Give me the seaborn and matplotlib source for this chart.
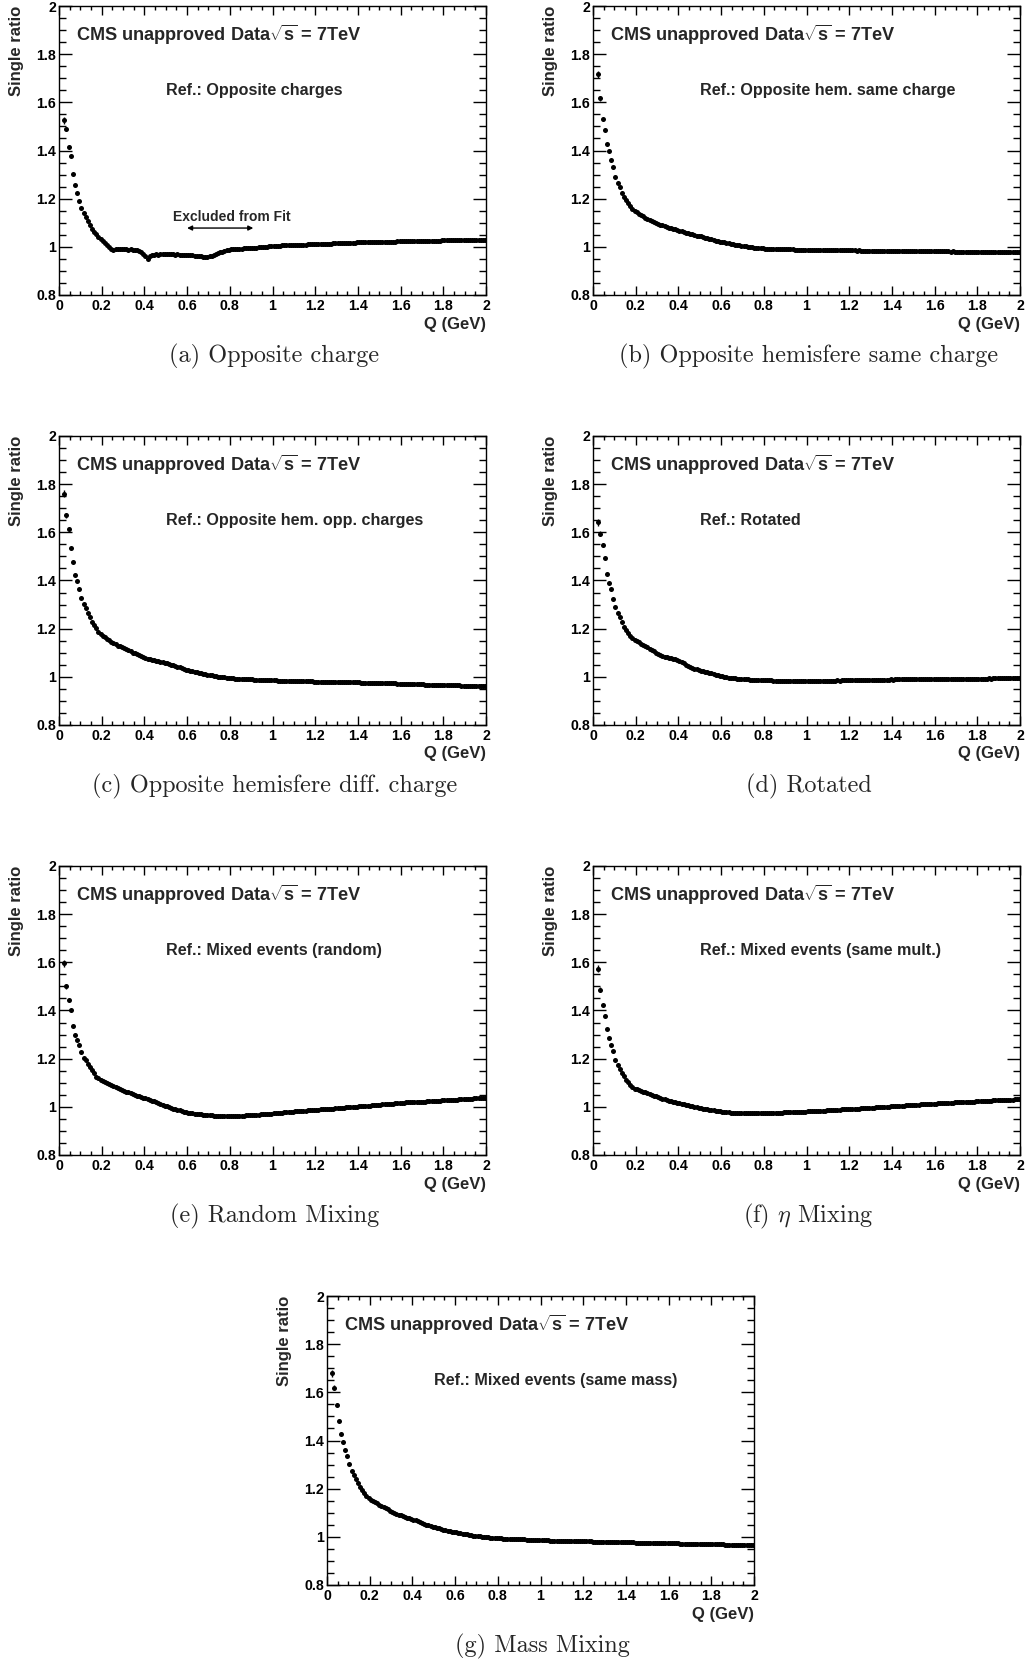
import numpy as np
import matplotlib
matplotlib.use("Agg")
import matplotlib.pyplot as plt
import matplotlib.ticker as mticker
import seaborn as sns

# Q bin centres (10 MeV bins, the first two are empty)
q_bins = np.round(np.arange(0.025, 2.0, 0.01), 3)

ratio_a = [
    1.526, 1.489, 1.415, 1.378, 1.302, 1.256, 1.222, 1.190, 1.160, 1.139,
    1.122, 1.107, 1.091, 1.075, 1.062, 1.052, 1.042, 1.033, 1.024, 1.016,
    1.007, 0.999, 0.991, 0.988, 0.989, 0.990, 0.990, 0.989, 0.990, 0.989,
    0.988, 0.989, 0.987, 0.986, 0.985, 0.982, 0.978, 0.971, 0.962, 0.951,
    0.962, 0.967, 0.968, 0.969, 0.968, 0.969, 0.970, 0.969, 0.969, 0.970,
    0.969, 0.969, 0.968, 0.969, 0.968, 0.968, 0.967, 0.967, 0.966, 0.966,
    0.965, 0.964, 0.962, 0.961, 0.960, 0.959, 0.958, 0.959, 0.960, 0.962,
    0.965, 0.969, 0.973, 0.977, 0.980, 0.983, 0.985, 0.987, 0.989, 0.990,
    0.991, 0.992, 0.993, 0.993, 0.994, 0.995, 0.995, 0.996, 0.996, 0.997,
    0.997, 0.998, 0.998, 0.999, 1.000, 1.001, 1.002, 1.003, 1.004, 1.004,
    1.005, 1.005, 1.006, 1.006, 1.006, 1.007, 1.007, 1.007, 1.008, 1.008,
    1.008, 1.009, 1.009, 1.009, 1.010, 1.010, 1.010, 1.011, 1.011, 1.011,
    1.012, 1.012, 1.012, 1.013, 1.013, 1.013, 1.014, 1.014, 1.015, 1.015,
    1.015, 1.016, 1.016, 1.016, 1.017, 1.017, 1.017, 1.018, 1.018, 1.018,
    1.019, 1.019, 1.019, 1.020, 1.020, 1.020, 1.020, 1.021, 1.021, 1.021,
    1.021, 1.022, 1.022, 1.022, 1.022, 1.022, 1.023, 1.023, 1.023, 1.023,
    1.023, 1.024, 1.024, 1.024, 1.024, 1.025, 1.025, 1.025, 1.025, 1.025,
    1.025, 1.026, 1.026, 1.026, 1.026, 1.026, 1.026, 1.027, 1.027, 1.027,
    1.027, 1.027, 1.027, 1.027, 1.027, 1.027, 1.027, 1.027, 1.027, 1.027,
    1.027, 1.027, 1.027, 1.027, 1.027, 1.027, 1.027, 1.027,
]

ratio_b = [
    1.716, 1.616, 1.529, 1.487, 1.425, 1.400, 1.360, 1.330, 1.292, 1.266,
    1.247, 1.225, 1.208, 1.194, 1.180, 1.169, 1.158, 1.150, 1.144, 1.138,
    1.132, 1.126, 1.121, 1.116, 1.111, 1.107, 1.103, 1.099, 1.095, 1.092,
    1.089, 1.086, 1.083, 1.080, 1.077, 1.074, 1.072, 1.069, 1.067, 1.064,
    1.062, 1.059, 1.057, 1.055, 1.052, 1.050, 1.047, 1.045, 1.043, 1.040,
    1.038, 1.035, 1.033, 1.031, 1.028, 1.026, 1.024, 1.022, 1.020, 1.018,
    1.016, 1.014, 1.012, 1.010, 1.009, 1.007, 1.006, 1.004, 1.003, 1.002,
    1.001, 1.000, 0.998, 0.997, 0.996, 0.995, 0.995, 0.994, 0.993, 0.993,
    0.992, 0.992, 0.991, 0.991, 0.991, 0.990, 0.990, 0.990, 0.989, 0.989,
    0.989, 0.989, 0.988, 0.988, 0.988, 0.988, 0.988, 0.987, 0.987, 0.987,
    0.987, 0.987, 0.987, 0.986, 0.986, 0.986, 0.986, 0.986, 0.986, 0.986,
    0.985, 0.985, 0.985, 0.985, 0.985, 0.985, 0.985, 0.985, 0.985, 0.985,
    0.985, 0.984, 0.985, 0.984, 0.984, 0.984, 0.984, 0.984, 0.984, 0.984,
    0.984, 0.984, 0.983, 0.984, 0.983, 0.984, 0.983, 0.983, 0.983, 0.983,
    0.983, 0.983, 0.983, 0.983, 0.983, 0.982, 0.983, 0.983, 0.982, 0.982,
    0.982, 0.982, 0.982, 0.982, 0.982, 0.982, 0.981, 0.982, 0.981, 0.981,
    0.981, 0.981, 0.981, 0.981, 0.981, 0.980, 0.981, 0.980, 0.980, 0.980,
    0.980, 0.980, 0.980, 0.980, 0.979, 0.980, 0.979, 0.979, 0.979, 0.979,
    0.979, 0.979, 0.979, 0.978, 0.979, 0.978, 0.978, 0.978, 0.978, 0.978,
    0.978, 0.978, 0.978, 0.977, 0.978, 0.977, 0.977, 0.977,
]

ratio_c = [
    1.761, 1.670, 1.615, 1.534, 1.478, 1.424, 1.398, 1.363, 1.328, 1.301,
    1.284, 1.263, 1.250, 1.229, 1.215, 1.201, 1.187, 1.178, 1.170, 1.164,
    1.158, 1.152, 1.145, 1.140, 1.135, 1.130, 1.126, 1.122, 1.118, 1.114,
    1.110, 1.106, 1.101, 1.097, 1.093, 1.089, 1.085, 1.081, 1.078, 1.075,
    1.073, 1.071, 1.068, 1.066, 1.064, 1.062, 1.060, 1.058, 1.056, 1.054,
    1.051, 1.048, 1.045, 1.042, 1.039, 1.036, 1.033, 1.030, 1.028, 1.025,
    1.023, 1.020, 1.018, 1.016, 1.014, 1.012, 1.010, 1.008, 1.007, 1.006,
    1.004, 1.003, 1.001, 1.000, 0.999, 0.998, 0.997, 0.996, 0.995, 0.994,
    0.993, 0.993, 0.992, 0.991, 0.991, 0.990, 0.990, 0.989, 0.989, 0.988,
    0.988, 0.987, 0.987, 0.987, 0.986, 0.986, 0.986, 0.985, 0.985, 0.985,
    0.984, 0.984, 0.984, 0.984, 0.983, 0.983, 0.983, 0.983, 0.982, 0.982,
    0.982, 0.982, 0.982, 0.981, 0.981, 0.981, 0.981, 0.980, 0.980, 0.980,
    0.980, 0.980, 0.979, 0.979, 0.979, 0.979, 0.979, 0.978, 0.978, 0.978,
    0.978, 0.978, 0.978, 0.977, 0.977, 0.977, 0.977, 0.977, 0.977, 0.976,
    0.976, 0.976, 0.976, 0.975, 0.975, 0.975, 0.975, 0.974, 0.974, 0.974,
    0.974, 0.974, 0.973, 0.973, 0.973, 0.973, 0.972, 0.972, 0.972, 0.971,
    0.971, 0.971, 0.970, 0.970, 0.970, 0.970, 0.969, 0.969, 0.969, 0.968,
    0.968, 0.968, 0.968, 0.967, 0.967, 0.967, 0.967, 0.966, 0.966, 0.966,
    0.966, 0.966, 0.965, 0.965, 0.965, 0.965, 0.964, 0.964, 0.964, 0.964,
    0.964, 0.963, 0.963, 0.963, 0.963, 0.963, 0.962, 0.962,
]

ratio_d = [
    1.642, 1.595, 1.548, 1.492, 1.429, 1.389, 1.363, 1.324, 1.291, 1.266,
    1.247, 1.229, 1.208, 1.194, 1.180, 1.171, 1.160, 1.155, 1.150, 1.145,
    1.138, 1.132, 1.127, 1.122, 1.116, 1.111, 1.106, 1.101, 1.096, 1.092,
    1.088, 1.084, 1.081, 1.079, 1.077, 1.075, 1.072, 1.069, 1.065, 1.061,
    1.056, 1.051, 1.047, 1.042, 1.038, 1.034, 1.031, 1.028, 1.025, 1.023,
    1.021, 1.019, 1.017, 1.015, 1.012, 1.009, 1.006, 1.004, 1.002, 1.000,
    0.998, 0.997, 0.996, 0.995, 0.994, 0.993, 0.992, 0.991, 0.990, 0.989,
    0.989, 0.988, 0.988, 0.987, 0.987, 0.987, 0.986, 0.986, 0.986, 0.985,
    0.985, 0.985, 0.984, 0.984, 0.984, 0.984, 0.984, 0.983, 0.983, 0.983,
    0.983, 0.983, 0.983, 0.983, 0.983, 0.983, 0.983, 0.983, 0.983, 0.983,
    0.983, 0.983, 0.983, 0.984, 0.983, 0.984, 0.984, 0.984, 0.984, 0.984,
    0.984, 0.984, 0.985, 0.984, 0.985, 0.985, 0.985, 0.985, 0.985, 0.986,
    0.986, 0.986, 0.986, 0.986, 0.987, 0.986, 0.987, 0.987, 0.987, 0.987,
    0.987, 0.988, 0.988, 0.988, 0.988, 0.988, 0.988, 0.989, 0.988, 0.989,
    0.989, 0.989, 0.989, 0.990, 0.989, 0.990, 0.990, 0.990, 0.990, 0.990,
    0.990, 0.991, 0.991, 0.991, 0.991, 0.991, 0.991, 0.991, 0.991, 0.991,
    0.991, 0.992, 0.991, 0.992, 0.992, 0.992, 0.992, 0.992, 0.992, 0.992,
    0.992, 0.992, 0.993, 0.992, 0.993, 0.993, 0.993, 0.993, 0.993, 0.993,
    0.993, 0.993, 0.993, 0.994, 0.993, 0.994, 0.994, 0.994, 0.994, 0.994,
    0.994, 0.994, 0.994, 0.994, 0.994, 0.994, 0.994, 0.994,
]

ratio_e = [
    1.596, 1.500, 1.442, 1.400, 1.336, 1.299, 1.278, 1.258, 1.226, 1.202,
    1.193, 1.179, 1.165, 1.151, 1.140, 1.123, 1.118, 1.112, 1.108, 1.104,
    1.100, 1.096, 1.091, 1.087, 1.083, 1.079, 1.075, 1.071, 1.067, 1.063,
    1.060, 1.057, 1.054, 1.050, 1.047, 1.044, 1.041, 1.038, 1.035, 1.032,
    1.029, 1.026, 1.023, 1.019, 1.016, 1.012, 1.009, 1.005, 1.002, 0.999,
    0.996, 0.993, 0.990, 0.987, 0.985, 0.982, 0.980, 0.978, 0.976, 0.975,
    0.973, 0.972, 0.971, 0.970, 0.969, 0.968, 0.967, 0.966, 0.965, 0.965,
    0.964, 0.964, 0.964, 0.963, 0.963, 0.963, 0.963, 0.963, 0.963, 0.963,
    0.963, 0.963, 0.964, 0.964, 0.964, 0.965, 0.965, 0.966, 0.966, 0.967,
    0.967, 0.968, 0.969, 0.969, 0.970, 0.971, 0.972, 0.972, 0.973, 0.974,
    0.975, 0.975, 0.976, 0.977, 0.978, 0.979, 0.979, 0.980, 0.981, 0.981,
    0.982, 0.983, 0.984, 0.984, 0.985, 0.986, 0.986, 0.987, 0.988, 0.988,
    0.989, 0.990, 0.991, 0.991, 0.992, 0.993, 0.993, 0.994, 0.995, 0.995,
    0.996, 0.997, 0.998, 0.998, 0.999, 1.000, 1.000, 1.001, 1.002, 1.002,
    1.003, 1.004, 1.005, 1.005, 1.006, 1.007, 1.007, 1.008, 1.009, 1.010,
    1.010, 1.011, 1.012, 1.013, 1.013, 1.014, 1.015, 1.015, 1.016, 1.017,
    1.018, 1.018, 1.019, 1.019, 1.020, 1.020, 1.021, 1.021, 1.022, 1.022,
    1.023, 1.023, 1.024, 1.025, 1.025, 1.026, 1.026, 1.027, 1.027, 1.028,
    1.028, 1.029, 1.029, 1.030, 1.030, 1.031, 1.031, 1.032, 1.032, 1.033,
    1.034, 1.034, 1.035, 1.035, 1.036, 1.036, 1.037, 1.038,
]

ratio_f = [
    1.573, 1.486, 1.422, 1.378, 1.323, 1.285, 1.256, 1.230, 1.196, 1.175,
    1.157, 1.140, 1.126, 1.113, 1.102, 1.089, 1.082, 1.076, 1.072, 1.069,
    1.066, 1.063, 1.060, 1.056, 1.053, 1.050, 1.046, 1.043, 1.040, 1.037,
    1.034, 1.031, 1.028, 1.026, 1.024, 1.022, 1.019, 1.017, 1.015, 1.013,
    1.011, 1.009, 1.007, 1.005, 1.003, 1.001, 0.999, 0.997, 0.995, 0.993,
    0.992, 0.990, 0.988, 0.987, 0.985, 0.984, 0.982, 0.981, 0.980, 0.979,
    0.978, 0.977, 0.976, 0.976, 0.975, 0.975, 0.974, 0.974, 0.974, 0.973,
    0.973, 0.973, 0.973, 0.973, 0.973, 0.973, 0.973, 0.974, 0.974, 0.974,
    0.974, 0.975, 0.975, 0.975, 0.976, 0.976, 0.976, 0.977, 0.977, 0.977,
    0.978, 0.978, 0.978, 0.979, 0.979, 0.980, 0.980, 0.980, 0.981, 0.981,
    0.982, 0.982, 0.982, 0.983, 0.983, 0.984, 0.984, 0.985, 0.985, 0.986,
    0.986, 0.987, 0.987, 0.988, 0.989, 0.989, 0.990, 0.990, 0.991, 0.991,
    0.992, 0.992, 0.993, 0.994, 0.994, 0.995, 0.995, 0.996, 0.997, 0.997,
    0.998, 0.998, 0.999, 1.000, 1.000, 1.001, 1.001, 1.002, 1.003, 1.003,
    1.004, 1.004, 1.005, 1.005, 1.006, 1.006, 1.007, 1.007, 1.008, 1.008,
    1.009, 1.010, 1.010, 1.011, 1.011, 1.012, 1.012, 1.013, 1.013, 1.014,
    1.014, 1.015, 1.015, 1.016, 1.016, 1.017, 1.017, 1.018, 1.018, 1.019,
    1.019, 1.020, 1.020, 1.021, 1.021, 1.022, 1.022, 1.023, 1.023, 1.024,
    1.024, 1.025, 1.025, 1.026, 1.026, 1.027, 1.027, 1.027, 1.028, 1.028,
    1.029, 1.029, 1.029, 1.030, 1.030, 1.031, 1.031, 1.031,
]

ratio_g = [
    1.679, 1.619, 1.547, 1.482, 1.428, 1.392, 1.362, 1.337, 1.301, 1.273,
    1.257, 1.240, 1.224, 1.208, 1.194, 1.181, 1.170, 1.160, 1.154, 1.149,
    1.144, 1.139, 1.134, 1.129, 1.124, 1.119, 1.114, 1.109, 1.103, 1.099,
    1.096, 1.092, 1.089, 1.086, 1.083, 1.080, 1.077, 1.074, 1.071, 1.068,
    1.065, 1.061, 1.058, 1.055, 1.051, 1.048, 1.045, 1.042, 1.039, 1.037,
    1.035, 1.032, 1.030, 1.028, 1.026, 1.024, 1.022, 1.020, 1.018, 1.016,
    1.015, 1.013, 1.011, 1.010, 1.008, 1.007, 1.005, 1.004, 1.003, 1.002,
    1.001, 1.000, 0.999, 0.998, 0.997, 0.996, 0.996, 0.995, 0.994, 0.994,
    0.993, 0.993, 0.992, 0.992, 0.991, 0.991, 0.990, 0.990, 0.990, 0.989,
    0.989, 0.988, 0.988, 0.988, 0.987, 0.987, 0.986, 0.986, 0.985, 0.985,
    0.985, 0.985, 0.984, 0.984, 0.984, 0.984, 0.983, 0.983, 0.983, 0.983,
    0.983, 0.982, 0.982, 0.982, 0.982, 0.982, 0.981, 0.981, 0.981, 0.981,
    0.981, 0.981, 0.980, 0.980, 0.980, 0.980, 0.980, 0.979, 0.979, 0.979,
    0.979, 0.979, 0.978, 0.978, 0.978, 0.978, 0.978, 0.977, 0.977, 0.977,
    0.977, 0.977, 0.976, 0.976, 0.976, 0.976, 0.976, 0.975, 0.975, 0.975,
    0.975, 0.975, 0.975, 0.974, 0.974, 0.974, 0.974, 0.974, 0.973, 0.973,
    0.973, 0.973, 0.973, 0.972, 0.972, 0.972, 0.972, 0.972, 0.971, 0.971,
    0.971, 0.971, 0.971, 0.970, 0.970, 0.970, 0.970, 0.970, 0.970, 0.969,
    0.969, 0.969, 0.969, 0.969, 0.968, 0.968, 0.968, 0.968, 0.968, 0.968,
    0.967, 0.967, 0.967, 0.967, 0.967, 0.967, 0.967, 0.966,
]

# statistical errors: visible only in the first bins
err_first = [0.014, 0.010, 0.007, 0.006, 0.006]
err_rest = 0.006

ref_labels = [
    "Ref.: Opposite charges",
    "Ref.: Opposite hem. same charge",
    "Ref.: Opposite hem. opp. charges",
    "Ref.: Rotated",
    "Ref.: Mixed events (random)",
    "Ref.: Mixed events (same mult.)",
    "Ref.: Mixed events (same mass)",
]
captions = [
    "(a) Opposite charge",
    "(b) Opposite hemisfere same charge",
    "(c) Opposite hemisfere diff. charge",
    "(d) Rotated",
    "(e) Random Mixing",
    r"(f) $\eta$ Mixing",
    "(g) Mass Mixing",
]
series = [ratio_a, ratio_b, ratio_c, ratio_d, ratio_e, ratio_f, ratio_g]

# pixel layout of the frames (left, top) in a 1025 x 1663 canvas
W, H = 1025, 1663
AX_W, AX_H = 427, 289
frames = [(59, 6), (593, 6), (59, 436), (593, 436),
          (59, 866), (593, 866), (327, 1296)]

sns.set_style("ticks")
plt.rcParams.update({
    "font.family": ["Liberation Sans", "DejaVu Sans"],
    "font.weight": "bold",
    "axes.linewidth": 1.0,
    "axes.edgecolor": "black",
    "xtick.direction": "in",
    "ytick.direction": "in",
    "xtick.top": True,
    "ytick.right": True,
    "xtick.color": "black",
    "ytick.color": "black",
    "mathtext.fontset": "custom",
    "mathtext.rm": "Liberation Sans:bold",
    "mathtext.bf": "Liberation Sans:bold",
    "mathtext.it": "Liberation Sans:bold:italic",
})

fig = plt.figure(figsize=(W / 100, H / 100), dpi=100)
fmt = mticker.FuncFormatter(lambda v, p: f"{v:g}")

for vals, ref, cap, (px, py) in zip(series, ref_labels, captions, frames):
    ax = fig.add_axes([px / W, 1 - (py + AX_H) / H, AX_W / W, AX_H / H])
    q = q_bins[:len(vals)]
    errs = err_first + [err_rest] * (len(vals) - len(err_first))

    ax.errorbar(q, vals, yerr=errs, fmt="none", ecolor="black",
                elinewidth=1.0, capsize=0, zorder=2)
    sns.scatterplot(x=q, y=vals, ax=ax, color="black", s=13,
                    linewidth=0, zorder=3)

    ax.set_xlim(0, 2)
    ax.set_ylim(0.8, 2)
    ax.xaxis.set_major_locator(mticker.MultipleLocator(0.2))
    ax.xaxis.set_minor_locator(mticker.MultipleLocator(0.05))
    ax.yaxis.set_major_locator(mticker.MultipleLocator(0.2))
    ax.yaxis.set_minor_locator(mticker.MultipleLocator(0.05))
    ax.xaxis.set_major_formatter(fmt)
    ax.yaxis.set_major_formatter(fmt)
    ax.tick_params(axis="x", which="major", length=6.5, width=1.0,
                   labelsize=10.2, pad=3)
    ax.tick_params(axis="x", which="minor", length=3.2, width=1.0)
    ax.tick_params(axis="y", which="major", length=9.4, width=1.0,
                   labelsize=10.2, pad=2)
    ax.tick_params(axis="y", which="minor", length=4.7, width=1.0)
    for lab in ax.get_xticklabels() + ax.get_yticklabels():
        lab.set_fontweight("bold")

    ax.set_xlabel("Q (GeV)", loc="right", fontsize=12, fontweight="bold")
    ax.xaxis.set_label_coords(1.0, -29 / AX_H)
    ax.xaxis.label.set_va("center")
    ax.set_ylabel("Single ratio", loc="top", fontsize=12, fontweight="bold")
    ax.yaxis.set_label_coords(-35 / AX_W, 1.0)

    ax.text(0.04, 0.90, r"CMS unapproved Data$\sqrt{\mathrm{s}}$ = 7TeV",
            transform=ax.transAxes, fontsize=13.1, fontweight="bold",
            ha="left", va="center")
    ax.text(0.25, 0.707, ref, transform=ax.transAxes, fontsize=11.6,
            fontweight="bold", ha="left", va="center")

    fig.text((px + AX_W / 2 + 2) / W, 1 - (py + AX_H + 61) / H, cap,
             family="cmr10", math_fontfamily="cm", fontsize=17.5,
             ha="center", va="center")

    if ref == "Ref.: Opposite charges":
        ax.annotate("", xy=(0.60, 1.078), xytext=(0.91, 1.078),
                    arrowprops=dict(arrowstyle="<|-|>", color="black",
                                    lw=1.0, mutation_scale=7,
                                    shrinkA=0, shrinkB=0))
        ax.text(0.81, 1.124, "Excluded from Fit", fontsize=10,
                fontweight="bold", ha="center", va="center")

fig.savefig("out.png", dpi=100)
plt.close(fig)
